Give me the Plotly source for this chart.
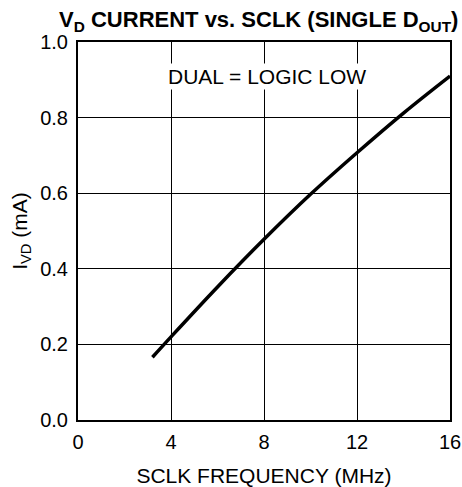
import plotly.graph_objects as go

sclk_mhz = [3.2, 4.0, 6.0, 8.0, 10.0, 12.0, 14.0, 16.0]
ivd_ma = [0.166, 0.22, 0.352, 0.478, 0.597, 0.707, 0.812, 0.91]
x_ticks = [0, 4, 8, 12, 16]
y_ticks = [0.0, 0.2, 0.4, 0.6, 0.8, 1.0]

font = "Liberation Sans, Arial, sans-serif"

fig = go.Figure()
fig.add_trace(
    go.Scatter(
        x=sclk_mhz,
        y=ivd_ma,
        mode="lines",
        line=dict(color="black", width=3.5, shape="spline"),
        showlegend=False,
    )
)

fig.add_annotation(
    x=8.15, y=0.908, text="DUAL = LOGIC LOW", showarrow=False,
    font=dict(family=font, size=21, color="black"), bgcolor="white",
)

axis_common = dict(
    showgrid=True, gridcolor="black", gridwidth=1,
    showline=True, linecolor="black", linewidth=2, mirror=True,
    ticks="", zeroline=False, automargin=False,
    tickfont=dict(family=font, size=20, color="black"),
)

fig.update_xaxes(
    range=[0, 16], tickvals=x_ticks, ticklabelstandoff=3,
    title=dict(text="SCLK FREQUENCY (MHz)", font=dict(family=font, size=21, color="black"), standoff=19),
    **axis_common,
)
fig.update_yaxes(
    range=[0, 1], tickvals=y_ticks, tickformat=".1f", ticklabelstandoff=4,
    title=dict(text="I<sub>VD</sub> (mA)", font=dict(family=font, size=21, color="black"), standoff=7),
    **axis_common,
)

fig.update_layout(
    width=462, height=487,
    margin=dict(l=78, r=12, t=42, b=67),
    plot_bgcolor="white", paper_bgcolor="white",
    title=dict(
        text="<b>V<sub>D</sub> CURRENT vs. SCLK (SINGLE D<sub>OUT</sub>)</b>",
        x=0.56, xanchor="center", y=0.96, yanchor="middle",
        font=dict(family=font, size=22, color="black"),
    ),
)

# drop the page's default body margin so the figure sits at the window corner
fig.write_html(
    "out.html",
    config={"displayModeBar": False},
    post_script="document.body.style.margin='0px';",
)
